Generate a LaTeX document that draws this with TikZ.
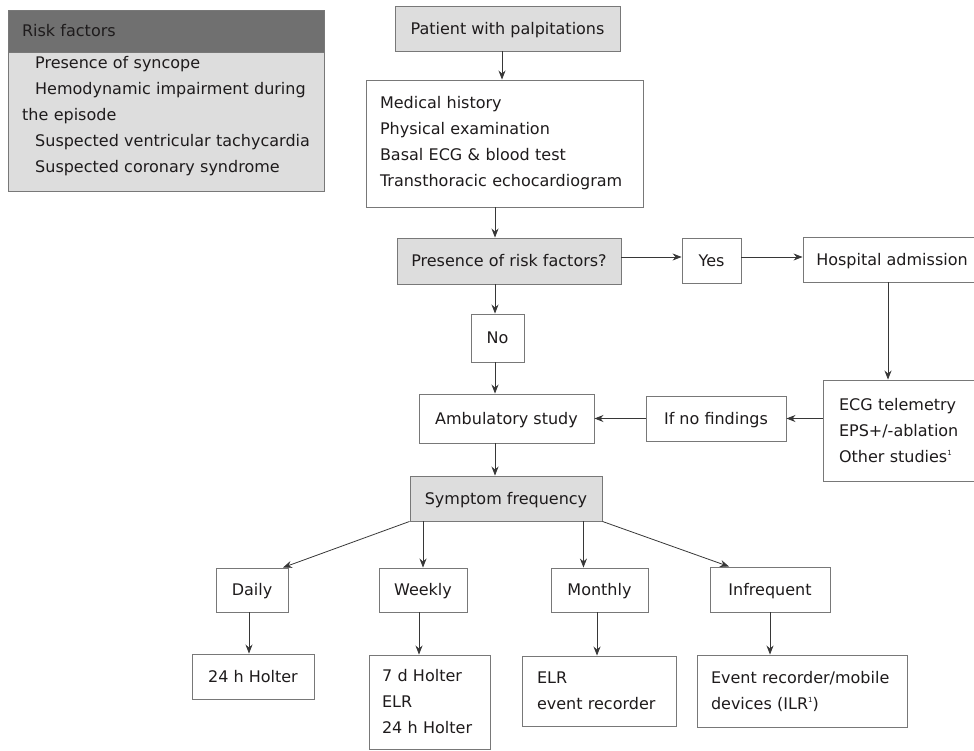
\documentclass[tikz,border=0pt]{standalone}
\usepackage{fontspec}
\setmainfont{DejaVu Sans}
\usetikzlibrary{arrows.meta}
\definecolor{bord}{RGB}{120,120,120}
\definecolor{lin}{RGB}{55,55,55}
\definecolor{fillg}{RGB}{221,221,221}
\definecolor{headg}{RGB}{112,112,112}
\definecolor{txt}{RGB}{30,27,28}
\newcommand{\supone}{\raisebox{7pt}{\fontsize{7}{7}\selectfont 1}}
\begin{document}
\begin{tikzpicture}[x=1pt,y=-1pt,
  font=\fontsize{16}{26}\selectfont, text=txt,
  bx/.style={draw=bord, line width=0.9pt, inner sep=0pt, fill=white, align=center},
  one/.style={text height=11.5pt, text depth=0pt},
  gbx/.style={bx, fill=fillg},
  arr/.style={draw=lin, line width=0.8pt, -{Stealth[length=9pt,width=7pt]}},
  ln/.style={draw=lin, line width=0.8pt}]
\useasboundingbox (0,0) rectangle (974,751);
% risk factor legend
\node[bx, one, fill=headg, minimum width=316pt, minimum height=42pt, align=left, text width=288pt, inner xsep=14pt] (rh) at (166,31) {Risk factors};
\node[gbx, minimum width=316pt, minimum height=139pt] (rb) at (166,121.5) {};
\node[anchor=north west, inner xsep=14pt, inner ysep=0pt, align=left, text width=300pt] (rbt) at (8,56)
  {\hspace*{13pt}Presence of syncope\\
   \hspace*{13pt}Hemodynamic impairment during\\
   the episode\\
   \hspace*{13pt}Suspected ventricular tachycardia\\
   \hspace*{13pt}Suspected coronary syndrome};
% main flow
\coordinate (col) at (495,0);
\coordinate (row) at (0,257);
\node[gbx, one, minimum width=225pt, minimum height=45pt] (pat) at (507.5,28.5) {Patient with palpitations};
\node[bx, minimum height=127pt, align=left, inner xsep=14pt, text width=249pt] (med) at (504.5,143.5)
  {Medical history\\Physical examination\\Basal ECG \& blood test\\Transthoracic echocardiogram};
\node[gbx, one, minimum width=224pt, minimum height=46pt] (pres) at (509,261) {Presence of risk factors?};
\node[bx, one, minimum width=59pt, minimum height=45pt] (yes) at (711.5,260.5) {Yes};
\node[bx, one, minimum width=178pt, minimum height=45pt] (hosp) at (892,259.5) {Hospital admission};
\node[bx, minimum height=101pt, align=left, inner xsep=16pt, text width=130pt] (ecg) at (904,430.5)
  {ECG telemetry\\EPS+/-ablation\\Other studies\supone};
\node[bx, one, minimum width=140pt, minimum height=45pt] (ifno) at (716,418.5) {If no findings};
\node[bx, one, minimum width=53pt, minimum height=48pt] (no) at (497.5,338) {No};
\node[bx, one, minimum width=175pt, minimum height=49pt] (amb) at (506.5,418.5) {Ambulatory study};
\node[gbx, one, minimum width=192pt, minimum height=45pt] (symp) at (506,498.5) {Symptom frequency};
% frequency
\node[bx, one, minimum width=72pt, minimum height=44pt] (daily) at (252,590) {Daily};
\node[bx, one, minimum width=88pt, minimum height=44pt] (week) at (423,590) {Weekly};
\node[bx, one, minimum width=97pt, minimum height=44pt] (month) at (599.5,590) {Monthly};
\node[bx, one, minimum width=120pt, minimum height=45pt] (infr) at (770,589.5) {Infrequent};
% devices
\node[bx, one, minimum width=122pt, minimum height=45pt] (h24) at (253,676.5) {24 h Holter};
\node[bx, minimum height=94pt, align=left, inner xsep=13pt, text width=95pt] (d7) at (429.5,702)
  {7 d Holter\\ELR\\24 h Holter};
\node[bx, minimum height=70pt, align=left, inner xsep=15pt, text width=124pt] (elr) at (599,691)
  {ELR\\event recorder};
\node[bx, minimum height=72pt, align=left, inner xsep=14pt, text width=182pt] (ev) at (802,691)
  {Event recorder/mobile\\devices (ILR\supone)};
% connectors
\draw[arr] (pat.south -| 502,0) -- (med.north -| 502,0);
\draw[arr] (med.south -| col) -- (pres.north -| col);
\draw[arr] (pres.south -| col) -- (no.north -| col);
\draw[arr] (no.south -| col) -- (amb.north -| col);
\draw[arr] (amb.south -| col) -- (symp.north -| col);
\draw[arr] (pres.east |- row) -- (yes.west |- row);
\draw[arr] (yes.east |- row) -- (hosp.west |- row);
\draw[arr] (hosp.south -| 888,0) -- (ecg.north -| 888,0);
\draw[arr] (ecg.west |- ifno.east) -- (ifno.east);
\draw[arr] (ifno.west) -- (ifno.west -| amb.east);
\draw[arr] (symp.south west) -- (daily.north east -| 283,0);
\draw[arr] (symp.south -| week.north) -- (week.north);
\draw[arr] ([xshift=-19pt]symp.south east) -- ([xshift=-19pt]symp.south east |- month.north);
\draw[arr] (symp.south east) -- (infr.north west -| 729,0);
\draw[arr] (daily.south -| 249,0) -- (h24.north -| 249,0);
\draw[arr] (week.south -| 419,0) -- (d7.north -| 419,0);
\draw[arr] (month.south -| 597,0) -- (elr.north -| 597,0);
\draw[arr] (infr.south) -- (ev.north -| infr.south);
\end{tikzpicture}
\end{document}
